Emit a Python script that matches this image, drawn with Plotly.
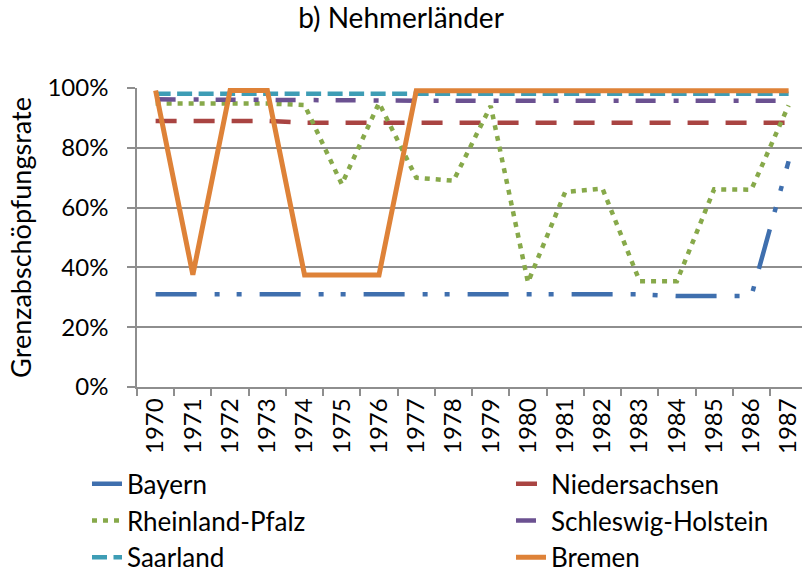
import plotly.graph_objects as go

# Jahre (Kategorien der x-Achse)
years = [str(y) for y in range(1970, 1988)]

# Grenzabschöpfungsrate in Prozent
bayern = [31.0, 31.0, 31.0, 31.0, 31.0, 31.0, 31.0, 31.0, 31.0, 31.0,
          31.0, 31.0, 31.0, 31.0, 30.4, 30.4, 30.4, 75.5]
niedersachsen = [89.0, 89.0, 89.0, 89.0, 88.4, 88.4, 88.4, 88.4, 88.4, 88.4,
                 88.4, 88.4, 88.4, 88.4, 88.4, 88.4, 88.4, 88.4]
rheinland_pfalz = [94.8, 94.8, 94.8, 94.8, 94.3, 67.8, 95.0, 70.0, 69.0, 94.0,
                   35.0, 65.2, 66.4, 35.4, 35.4, 66.1, 66.0, 94.2]
schleswig_holstein = [96.2, 96.2, 96.2, 96.2, 96.0, 95.9, 95.8, 95.7, 95.7, 95.7,
                      95.7, 95.7, 95.7, 95.7, 95.7, 95.7, 95.7, 95.7]
saarland = [98.1] * 18
bremen = [99.2, 37.5, 99.2, 99.2, 37.5, 37.5, 37.5, 99.1, 99.1, 99.1,
          99.1, 99.1, 99.1, 99.1, 99.1, 99.1, 99.1, 99.1]

series = [
    ("Bayern", bayern, "#3F6FAE", "41px,18px,5px,17px,5px,18px", 4.5),
    ("Niedersachsen", niedersachsen, "#A94442", "21px,17px", 4.5),
    ("Rheinland-Pfalz", rheinland_pfalz, "#87A94A", "5px,6px", 4.5),
    ("Schleswig-Holstein", schleswig_holstein, "#6B5191", "20px,18px,5px,17px", 4.5),
    ("Saarland", saarland, "#3E9DB5", "15px,6.5px", 4.5),
    ("Bremen", bremen, "#DE8238", "solid", 5),
]

font = "Lato, Calibri, sans-serif"
grid = "#8E8E8E"

fig = go.Figure()
for i, (name, vals, color, dash, width) in enumerate(series):
    # linke Spalte: legend, rechte Spalte: legend2
    fig.add_trace(go.Scatter(x=years, y=vals, name=name, mode="lines",
                             legend="legend" if i % 2 == 0 else "legend2",
                             line=dict(color=color, dash=dash, width=width)))

legend_style = dict(orientation="v", xanchor="left", yanchor="top", y=-0.245,
                    font=dict(size=26), bgcolor="rgba(0,0,0,0)", tracegroupgap=0)

fig.update_layout(
    width=802, height=573,
    margin=dict(l=137, r=0, t=87.5, b=186, autoexpand=False),
    paper_bgcolor="white", plot_bgcolor="white",
    font=dict(family=font, color="#000000", size=24),
    title=dict(text="b) Nehmerländer", x=0.5, xanchor="center",
               y=1 - 18 / 573, yanchor="middle", font=dict(size=28)),
    showlegend=True,
    legend=dict(x=-0.0752, **legend_style),
    legend2=dict(x=0.5624, **legend_style),
)

fig.update_xaxes(
    type="category", range=[-0.5, 17.36], tickangle=-90, automargin=False,
    showline=True, linecolor=grid, linewidth=1.5,
    ticks="outside", ticklen=7, tickcolor=grid, tickwidth=1.5,
    tickson="boundaries", showgrid=False, tickfont=dict(size=24),
)
fig.update_yaxes(
    range=[0, 100], dtick=20, ticksuffix="%", automargin=False,
    showline=True, linecolor=grid, linewidth=1.5,
    showgrid=True, gridcolor=grid, gridwidth=1.5, zeroline=False,
    ticks="outside", ticklen=8, tickcolor=grid, tickwidth=1.5,
    ticklabelstandoff=14, tickfont=dict(size=24),
    title=dict(text="Grenzabschöpfungsrate", standoff=8, font=dict(size=27)),
)

# Seitenrand des Browsers entfernen, damit die Grafik bei (0, 0) beginnt
fig.write_html("out.html", config={"displayModeBar": False},
               post_script="document.body.style.margin = '0';")
